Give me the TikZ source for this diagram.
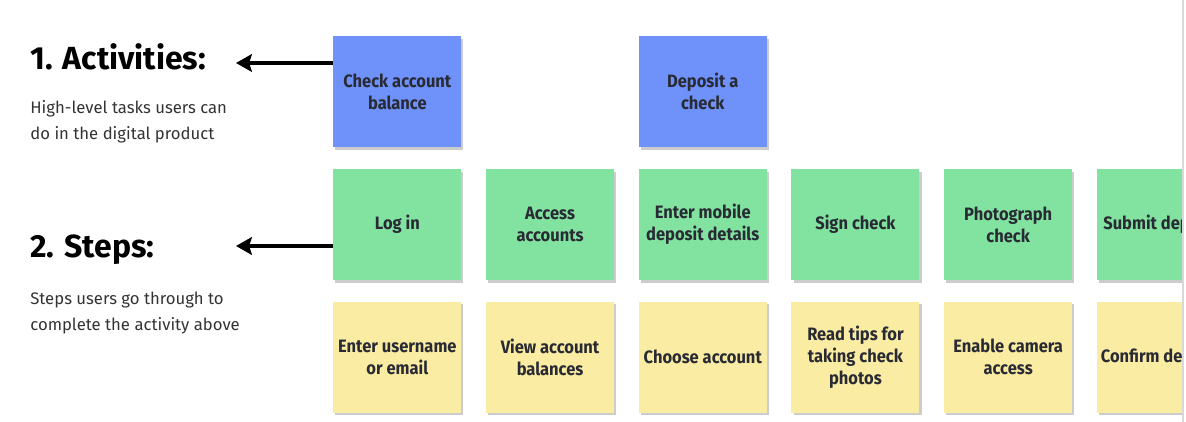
\documentclass[tikz,border=0pt]{standalone}
\usepackage{fontspec}
\setmainfont{Fira Sans}
\newfontfamily\notefont[FakeStretch=0.92]{Fira Sans}
\usetikzlibrary{positioning, arrows.meta, shadows}
\definecolor{actblue}{RGB}{110,146,250}
\definecolor{stepgreen}{RGB}{130,226,160}
\definecolor{taskyellow}{RGB}{250,236,162}
\definecolor{notetext}{RGB}{40,42,52}
\tikzset{
  note/.style={rectangle, minimum width=2.56cm, minimum height=2.22cm,
    align=center, inner sep=0pt, text=notetext,
    font=\notefont\bfseries\fontsize{10.2}{12.5}\selectfont,
    drop shadow={shadow xshift=1.2pt, shadow yshift=-1.5pt, fill=black, opacity=0.2}},
  activity/.style={note, fill=actblue},
  stepnote/.style={note, fill=stepgreen},
  task/.style={note, fill=taskyellow},
  heading/.style={anchor=base west, inner sep=0pt,
    font=\bfseries\fontsize{18.2}{21}\selectfont},
  desc/.style={anchor=north west, inner sep=0pt, align=left, text=black!80,
    font=\fontsize{9.5}{14.7}\selectfont},
  arrow/.style={line width=2pt, -{Stealth[length=9pt, width=10pt, inset=1.5pt]}},
}

\begin{document}
\begin{tikzpicture}[node distance=0.42cm and 0.48cm]
  \useasboundingbox (0,0) rectangle (23.72,-8.44);

  % Legend
  \node[heading] (hact) at (0.6,-1.40) {1. Activities:};
  \node[desc] (dact) at (0.6,-2.00) {High-level tasks users can\\do in the digital product};
  \node[heading] (hstep) at (0.6,-5.16) {2. Steps:};
  \node[desc] (dstep) at (0.6,-5.84) {Steps users go through to\\complete the activity above};
  \coordinate (tipact) at (4.72,-1.26);
  \coordinate (tipstep) at (4.72,-4.92);

  \begin{scope}
    \clip (0,0) rectangle (23.66,-8.44);
    % Activities
    \node[activity, anchor=north west] (balance) at (6.66,-0.72) {Check account\\balance};
    % Steps
    \node[stepnote, below=of balance] (login) {Log in};
    \node[stepnote, right=of login] (access) {Access\\accounts};
    \node[stepnote, right=of access] (mobile) {Enter mobile\\deposit details};
    \node[stepnote, right=of mobile] (sign) {Sign check};
    \node[stepnote, right=of sign] (photo) {Photograph\\check};
    \node[stepnote, right=of photo] (submit) {Submit deposit};
    \node[activity, above=of mobile] (deposit) {Deposit a\\check};
    % Tasks
    \node[task, below=of login] (username) {Enter username\\or email};
    \node[task, below=of access] (balances) {View account\\balances};
    \node[task, below=of mobile] (choose) {Choose account};
    \node[task, below=of sign] (tips) {Read tips for\\taking check\\photos};
    \node[task, below=of photo] (camera) {Enable camera\\access};
    \node[task, below=of submit] (confirm) {Confirm deposit};
  \end{scope}
  \draw[black!15, line width=1pt] (23.66,0) -- (23.66,-8.44);

  % Pointers
  \draw[arrow] (balance.west |- tipact) -- (tipact);
  \draw[arrow] (login.west |- tipstep) -- (tipstep);

\end{tikzpicture}
\end{document}
